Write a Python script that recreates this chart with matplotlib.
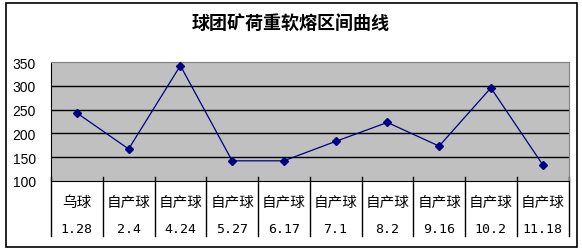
import matplotlib.pyplot as plt
from matplotlib.patches import Rectangle
import matplotlib.transforms as mtransforms

# ── data ────────────────────────────────────────────
kinds  = ['乌球', '自产球', '自产球', '自产球', '自产球',
          '自产球', '自产球', '自产球', '自产球', '自产球']
dates  = ['1.28', '2.4', '4.24', '5.27', '6.17',
          '7.1', '8.2', '9.16', '10.2', '11.18']
values = [243, 167, 343, 142, 142, 183, 223, 173, 296, 134]
yticks = [100, 150, 200, 250, 300, 350]

W, H = 582, 253
fig = plt.figure(figsize=(W / 100, H / 100), dpi=100)
fig.patch.set_facecolor('white')

# outer chart frame
fig.patches.append(Rectangle((6 / W, 1 - 248 / H), 570.5 / W, 244.5 / H,
                             transform=fig.transFigure, fill=False,
                             edgecolor='black', linewidth=1.2))

left, right, top, bottom = 51, 568.5, 63.3, 181.7
ax = fig.add_axes([left / W, 1 - bottom / H, (right - left) / W, (bottom - top) / H])
ax.set_facecolor('#C0C0C0')

n = len(values)
ax.set_xlim(-0.5, n - 0.5)
ax.set_ylim(100, 350)
ax.set_yticks(yticks)
ax.set_yticklabels([str(v) for v in yticks], fontsize=10, family='Liberation Sans')
ax.tick_params(axis='y', length=0, pad=11)
ax.set_xticks([])

for v in yticks[1:-1]:
    ax.axhline(v, color='black', linewidth=1, zorder=1)

for s in ['top', 'right']:
    ax.spines[s].set_color('#808080')
for s in ['left', 'bottom']:
    ax.spines[s].set_color('black')

ax.plot(range(n), values, color='#000080', linewidth=0.9, marker='D',
        markersize=4, zorder=3)

# category dividers and two-row labels below the axis
trans = mtransforms.blended_transform_factory(ax.transData, ax.transAxes)
ph = bottom - top
y_up = 4 / ph
y_dn = -(236.7 - bottom) / ph
for k in range(n + 1):
    ax.plot([k - 0.5, k - 0.5], [y_up, y_dn], color='black', linewidth=1,
            transform=trans, clip_on=False)
for i in range(n):
    ax.text(i, -(202.7 - bottom) / ph, kinds[i], transform=trans, ha='center',
            va='center', fontsize=10.5, family='Noto Sans CJK SC')
    ax.text(i, -(229.3 - bottom) / ph, dates[i], transform=trans, ha='center',
            va='center', fontsize=9.5, family='DejaVu Sans Mono')

fig.text(291 / W, 1 - 23 / H, '球团矿荷重软熔区间曲线', ha='center', va='center',
         fontsize=13, fontweight='bold', family='Noto Sans CJK SC')

fig.savefig('out.png', dpi=100)
